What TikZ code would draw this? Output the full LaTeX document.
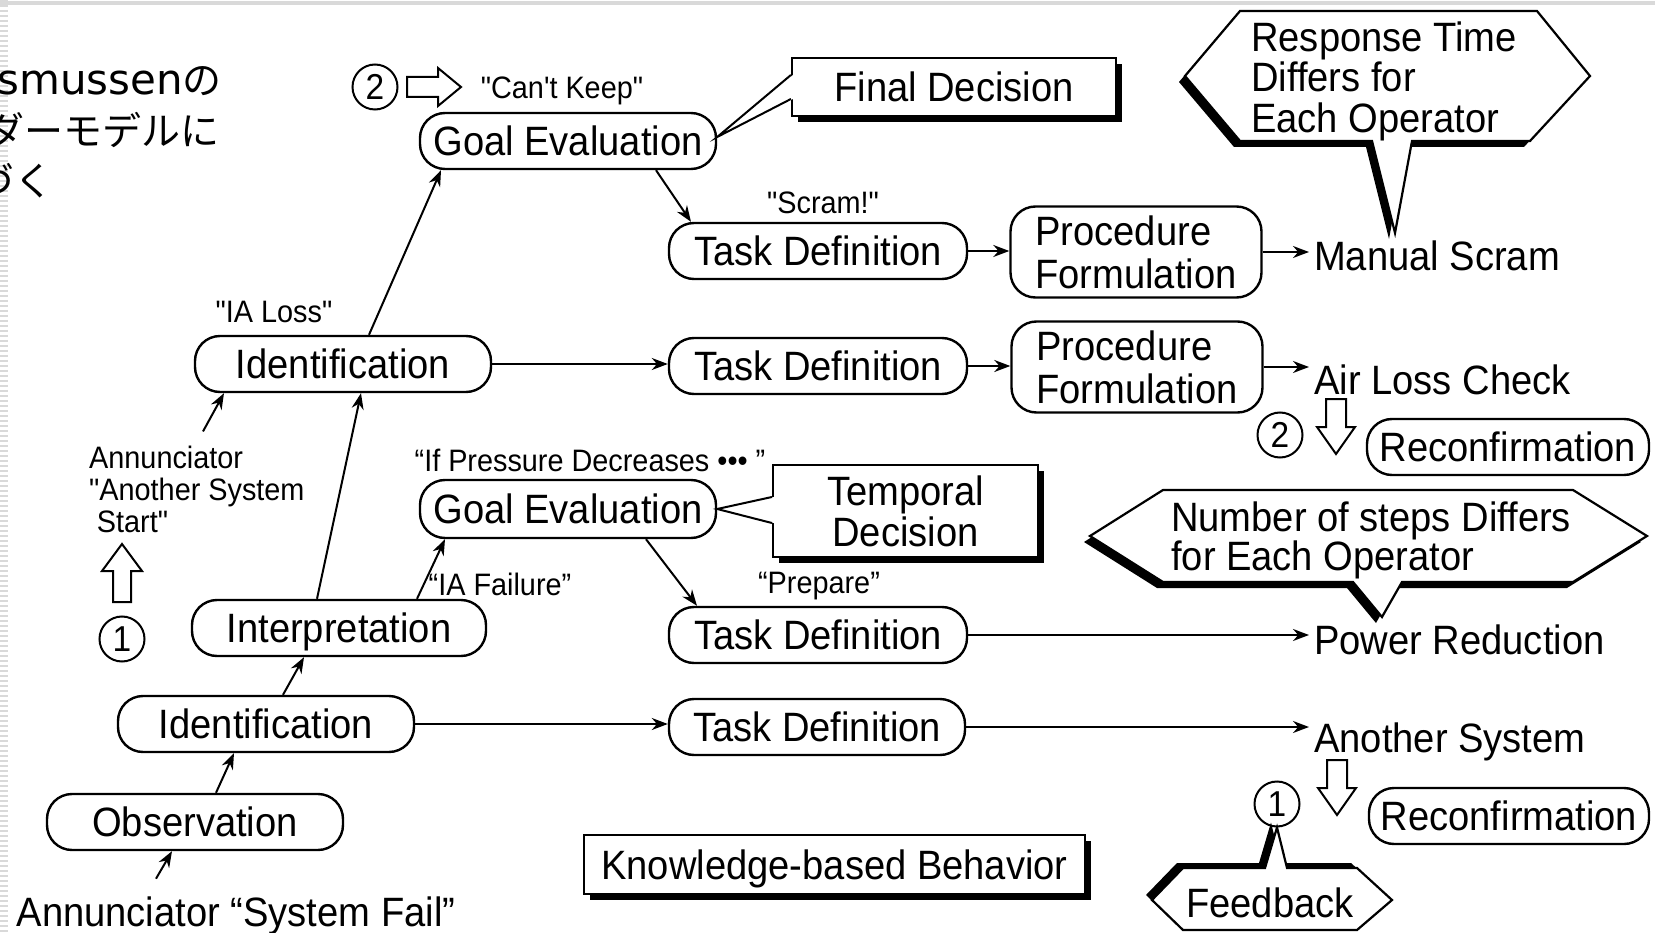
\documentclass[tikz,border=0pt]{standalone}
\usepackage{fontspec}
\setmainfont{Liberation Sans}[FakeStretch=0.93,Ligatures=TeXOff]
\newfontfamily\jpfont{Noto Sans CJK JP}
\newfontfamily\latinjp{DejaVu Sans}
\usetikzlibrary{arrows.meta,shadows}

\begin{document}
\begin{tikzpicture}[x=1pt,y=-1pt,
  every node/.style={font=\fontsize{41}{43}\selectfont},
  stagebox/.style={draw,line width=2.4pt,rounded corners=25pt,fill=white,minimum width=296pt,minimum height=56pt,text height=29pt,text depth=0pt,inner sep=0pt},
  planbox/.style={draw,line width=2.4pt,rounded corners=25pt,fill=white,minimum width=251pt,minimum height=91pt,align=left,inner sep=0pt},
  plaintext/.style={inner sep=1pt},
  notetext/.style={inner sep=1pt,font=\fontsize{31}{32}\selectfont},
  numtag/.style={circle,draw,line width=2pt,minimum size=45pt,inner sep=0pt,font=\fontsize{36}{36}\selectfont},
  flowarrow/.style={-{Stealth[length=16pt,width=12pt]},line width=2pt},
  hollow/.style={draw,line width=2pt,fill=white,line join=miter},
  shadowbox/.style={draw,line width=2.2pt,fill=white,inner sep=0pt,drop shadow={shadow xshift=6pt,shadow yshift=-6pt,opacity=1,fill=black}},
  hexshadow/.style={draw,line width=2.2pt,fill=white,line join=miter,drop shadow={shadow xshift=-6pt,shadow yshift=#1,opacity=1,fill=black}},
  hexshadow/.default=-6pt,
  jptext/.style={anchor=east,inner sep=0pt,font=\jpfont\fontsize{39}{50}\selectfont}
]
\def\xR{1313};
\useasboundingbox (0,0) rectangle (1655,933);
\fill[white] (0,0) rectangle (1655,933);
\draw[gray!30,line width=4pt] (0,3) -- (1655,3);
\draw[gray!30,line width=8pt,dash pattern=on 2pt off 3pt] (4,0) -- (4,933);

\begin{scope}
\clip (0,0) rectangle (1655,933);
\node[jptext] (jp1) at (222,80) {{\latinjp\fontsize{42}{50}\selectfont Rasmussen}の};
\node[jptext] (jp2) at (220,130) {ラダーモデルに};
\node[jptext] (jp3) at (54,180) {基づく};
\end{scope}

\node[numtag] (n2a) at (375,87) {2};
\draw[hollow] (407,77) -- (438,77) -- (438,68) -- (461,87) -- (438,106) -- (438,97) -- (407,97) -- cycle;
\node[notetext] (ck) at (562,91) {"Can't Keep"};
\node[stagebox] (ge1) at (568,141) {Goal Evaluation};
\node[shadowbox,minimum width=324pt,minimum height=58pt,text height=29pt,text depth=0pt] (fin) at (954,87) {Final Decision};
\fill[white] ([xshift=2pt,yshift=12pt]fin.west) -- ([yshift=4pt]ge1.east) -- ([xshift=2pt,yshift=-12pt]fin.west) -- cycle;
\draw[line width=2pt] ([yshift=12pt]fin.west) -- ([yshift=4pt]ge1.east) -- ([yshift=-12pt]fin.west);

\node[notetext] (scr) at (823,203) {"Scram!"};
\node[stagebox,minimum width=298pt] (td1) at (818,251) {Task Definition};
\node[planbox] (pf1) at (1136,252) {Procedure\\Formulation};
\node[plaintext,anchor=base west] (ms) at (\xR,271) {Manual Scram};

\path[hexshadow] (1240,11) -- (1537,11) -- (1590,76) -- (1530,141) -- (1412,141) -- (1395,233) -- (1372,141) -- (1240,141) -- (1185,76) -- cycle;
\node[plaintext,align=left,anchor=west,font=\fontsize{41}{40.5}\selectfont] (rsp) at (1250,81) {Response Time\\Differs for\\Each Operator};

\node[notetext] (ialoss) at (274,312) {"IA Loss"};
\node[stagebox] (id2) at (343,364) {Identification};
\node[stagebox,minimum width=298pt] (td2) at (818,366) {Task Definition};
\node[planbox] (pf2) at (1137,367) {Procedure\\Formulation};
\node[plaintext,anchor=base west] (alc) at (\xR,394) {Air Loss Check};
\node[numtag] (n2b) at (1280,435) {2};
\node[stagebox,minimum width=282pt] (rc2) at (1508,447) {Reconfirmation};

\node[notetext,align=left,anchor=west] (ann) at (88,489) {Annunciator\\"Another System\\\hspace{.25em}Start"};
\draw[hollow] (122,544) -- (142,571) -- (131,571) -- (131,602) -- (113,602) -- (113,571) -- (102,571) -- cycle;
\node[numtag] (n1a) at (122,639) {1};

\node[notetext] (ifp) at (590,460) {“If Pressure Decreases ••• ”};
\node[stagebox,minimum height=58pt] (ge2) at (568,509) {Goal Evaluation};
\node[shadowbox,minimum width=265pt,minimum height=92pt,align=center,font=\fontsize{41}{41}\selectfont] (tmp) at (905.5,511) {Temporal\\Decision};
\fill[white] ([xshift=2pt,yshift=14pt]tmp.west) -- (ge2.east) -- ([xshift=2pt,yshift=-12pt]tmp.west) -- cycle;
\draw[line width=2pt] ([yshift=14pt]tmp.west) -- (ge2.east) -- ([yshift=-12pt]tmp.west);

\path[hexshadow] (1163,490) -- (1573,490) -- (1647,536) -- (1573,582) -- (1402,582) -- (1382,617) -- (1353,582) -- (1163,582) -- (1090,536) -- cycle;
\node[plaintext,align=left,anchor=west,font=\fontsize{41}{39}\selectfont] (nst) at (1170,540) {Number of steps Differs\\for Each Operator};

\node[notetext] (iaf) at (500,584) {“IA Failure”};
\node[stagebox,minimum width=294pt] (intp) at (339,628) {Interpretation};
\node[notetext] (prep) at (819,586) {“Prepare”};
\node[stagebox,minimum width=298pt] (td3) at (818,635) {Task Definition};
\node[plaintext,anchor=base west] (pr) at (\xR,654) {Power Reduction};

\node[stagebox] (id1) at (266,724) {Identification};
\node[stagebox] (td4) at (817,727) {Task Definition};
\node[plaintext,anchor=base west] (as) at (\xR,752) {Another System};
\foreach \x/\y in {1336/399,1337/760}
  \draw[hollow] (\x-10,\y) -- (\x+10,\y) -- (\x+10,\y+28) -- (\x+19,\y+28) -- (\x,\y+55) -- (\x-19,\y+28) -- (\x-10,\y+28) -- cycle;
\node[numtag] (n1b) at (1277,804) {1};
\node[stagebox,minimum width=280pt] (rc1) at (1509,816) {Reconfirmation};
\path[hexshadow=5pt] (1183,868) -- (1265,868) -- (n1b.south) -- (1287,868) -- (1357,868) -- (1392,900) -- (1357,930) -- (1183,930) -- (1152,900) -- cycle;
\node[plaintext,text height=29pt,text depth=0pt] (fbk) at (1270,903) {Feedback};

\node[stagebox] (obs) at (195,822) {Observation};
\node[plaintext] (fail) at (236,916) {Annunciator “System Fail”};
\node[shadowbox,minimum width=501pt,minimum height=59pt,text height=29pt,text depth=0pt] (kbb) at (834.5,864.5) {Knowledge-based Behavior};

\draw[flowarrow] ([xshift=-80pt,yshift=17pt]fail.north) -- ([xshift=-23pt]obs.south);
\draw[flowarrow] ([xshift=21pt]obs.north) -- ([xshift=-32pt]id1.south);
\draw[flowarrow] ([xshift=17pt]id1.north) -- ([xshift=-35pt]intp.south);
\draw[flowarrow] ([xshift=-22pt]intp.north) -- ([xshift=18pt]id2.south);
\draw[flowarrow] ([xshift=78pt]intp.north) -- ([xshift=-123pt]ge2.south);
\draw[flowarrow] ([xshift=78pt]ge2.south) -- ([xshift=-121pt]td3.north);
\draw[flowarrow] ([xshift=115pt,yshift=13pt]ann.north west) -- ([xshift=-119pt]id2.south);
\draw[flowarrow] ([xshift=26pt]id2.north) -- ([xshift=-127pt]ge1.south);
\draw[flowarrow] ([xshift=88pt]ge1.south) -- ([xshift=-127pt]td1.north);
\draw[flowarrow] (id2.east) -- (id2.east -| td2.west);
\draw[flowarrow] (id1.east) -- (id1.east -| td4.west);
\draw[flowarrow] (td1.east) -- (td1.east -| pf1.west);
\draw[flowarrow] (td2.east) -- (td2.east -| pf2.west);
\draw[flowarrow] (pf1.east) -- ([xshift=-4pt]pf1.east -| ms.west);
\draw[flowarrow] (pf2.east) -- ([xshift=-4pt]pf2.east -| alc.west);
\draw[flowarrow] (td3.east) -- ([xshift=-4pt]td3.east -| pr.west);
\draw[flowarrow] (td4.east) -- ([xshift=-4pt]td4.east -| as.west);
\end{tikzpicture}
\end{document}
